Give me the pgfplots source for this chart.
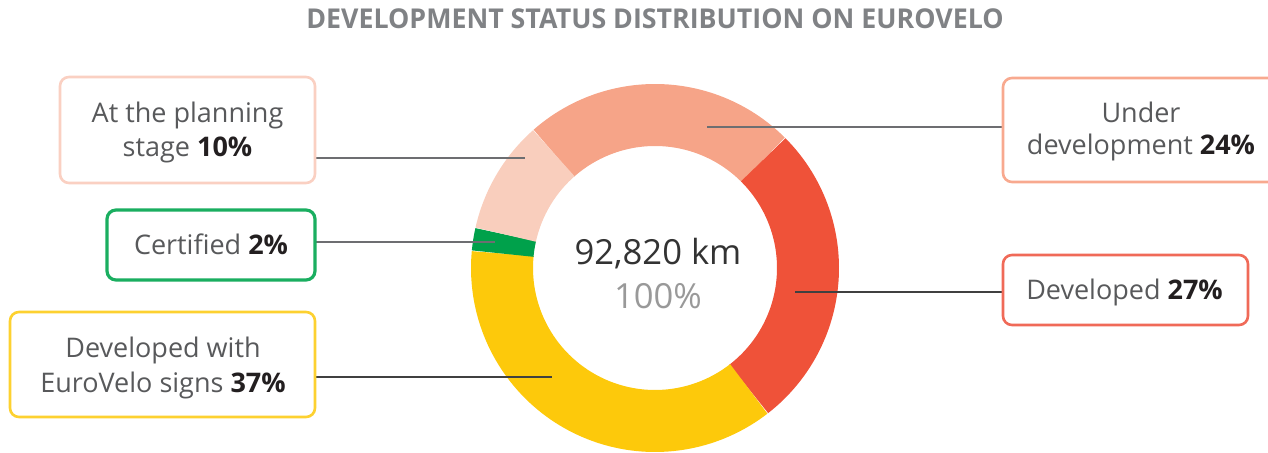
\documentclass[border=0pt]{standalone}
\usepackage{pgfplots}
\pgfplotsset{compat=1.18}
\usepackage{fontspec}
\setmainfont{Open Sans}
\definecolor{cplan}{HTML}{F9CEBD}
\definecolor{cplanb}{HTML}{FAD0C2}
\definecolor{cunder}{HTML}{F6A488}
\definecolor{cunderb}{HTML}{F8A98F}
\definecolor{cdev}{HTML}{EF5239}
\definecolor{cdevb}{HTML}{F06A58}
\definecolor{cev}{HTML}{FDC90B}
\definecolor{cevb}{HTML}{FDD130}
\definecolor{ccert}{HTML}{00A14B}
\definecolor{ccertb}{HTML}{1AAE60}
\definecolor{ctitle}{HTML}{808285}
\definecolor{ctext}{HTML}{58595B}
\definecolor{cbold}{HTML}{231F20}
\definecolor{cline}{HTML}{6D6E71}
\begin{document}
\begin{tikzpicture}
\begin{axis}[
  width=634pt, height=226.5pt, scale only axis,
  xmin=0, xmax=1268, ymin=0, ymax=453, y dir=reverse,
  hide axis, clip=false,
  every axis plot/.append style={no markers, line cap=butt},
]
% shares (percent): under development 24, developed 27, EuroVelo signs 37, certified 2, planning 10
% start angle 131.4 deg, clockwise, 3.6 deg per percent
\addplot[draw=cunder, line width=31pt, domain=45:131.4, samples=60] ({655+153*cos(x)},{268-153*sin(x)});
\addplot[draw=cdev, line width=31pt, domain=-52.2:45, samples=60] ({655+153*cos(x)},{268-153*sin(x)});
\addplot[draw=cev, line width=31pt, domain=-185.4:-52.2, samples=80] ({655+153*cos(x)},{268-153*sin(x)});
\addplot[draw=ccert, line width=31pt, domain=-192.6:-185.4, samples=8] ({655+153*cos(x)},{268-153*sin(x)});
\addplot[draw=cplan, line width=31pt, domain=-228.6:-192.6, samples=30] ({655+153*cos(x)},{268-153*sin(x)});

% callout lines
\draw[cline, line width=1pt] (axis cs:315,158) -- (axis cs:525,158);
\draw[cline, line width=1pt] (axis cs:315,242) -- (axis cs:495,242);
\draw[black!75, line width=1pt] (axis cs:315,377) -- (axis cs:552,377);
\draw[cline, line width=1pt] (axis cs:707,127) -- (axis cs:1003,127);
\draw[black!75, line width=1pt] (axis cs:795,292) -- (axis cs:1003,292);

% boxes
\draw[cplanb, line width=1.3pt, rounded corners=4.5pt, fill=white] (axis cs:60,77) rectangle (axis cs:315,183);
\draw[ccertb, line width=1.6pt, rounded corners=4.5pt, fill=white] (axis cs:107,210) rectangle (axis cs:315,280);
\draw[cevb, line width=1.3pt, rounded corners=4.5pt, fill=white] (axis cs:10,312) rectangle (axis cs:315,417);
\draw[cunderb, line width=1.3pt, rounded corners=4.5pt, fill=white] (axis cs:1003,78) rectangle (axis cs:1290,182);
\draw[cdevb, line width=1.3pt, rounded corners=4.5pt, fill=white] (axis cs:1003,255) rectangle (axis cs:1248,325);

% texts
\newcommand{\lab}{\fontsize{13.5}{16}\selectfont\color{ctext}}
\newcommand{\pc}[1]{\textbf{\color{cbold}#1}}
\node[anchor=base, inner sep=0pt] at (axis cs:187.5,123) {\lab At the planning};
\node[anchor=base, inner sep=0pt] at (axis cs:187.5,157) {\lab stage \pc{10\%}};
\node[anchor=base, inner sep=0pt] at (axis cs:211,255) {\lab Certified \pc{2\%}};
\node[anchor=base, inner sep=0pt] at (axis cs:163,358) {\lab Developed with};
\node[anchor=base, inner sep=0pt] at (axis cs:163,393) {\lab EuroVelo signs \pc{37\%}};
\node[anchor=base, inner sep=0pt] at (axis cs:1141,123) {\lab Under};
\node[anchor=base, inner sep=0pt] at (axis cs:1141,155) {\lab development \pc{24\%}};
\node[anchor=base, inner sep=0pt] at (axis cs:1124.5,300) {\lab Developed \pc{27\%}};

\node[anchor=base, inner sep=0pt] at (axis cs:658,265) {\fontsize{17.3}{20}\selectfont\color{black!80}92,820 km};
\node[anchor=base, inner sep=0pt] at (axis cs:658,309) {\fontsize{17.3}{20}\selectfont\color{black!40}100\%};

\node[anchor=base, inner sep=0pt] at (axis cs:655,29) {\scalebox{1.03}[1.05]{\fontsize{13}{15}\selectfont\bfseries\color{ctitle}DEVELOPMENT STATUS DISTRIBUTION ON EUROVELO}};
\end{axis}
\pgfresetboundingbox
\useasboundingbox (current axis.south west) rectangle (current axis.north east);
\end{tikzpicture}
\end{document}
